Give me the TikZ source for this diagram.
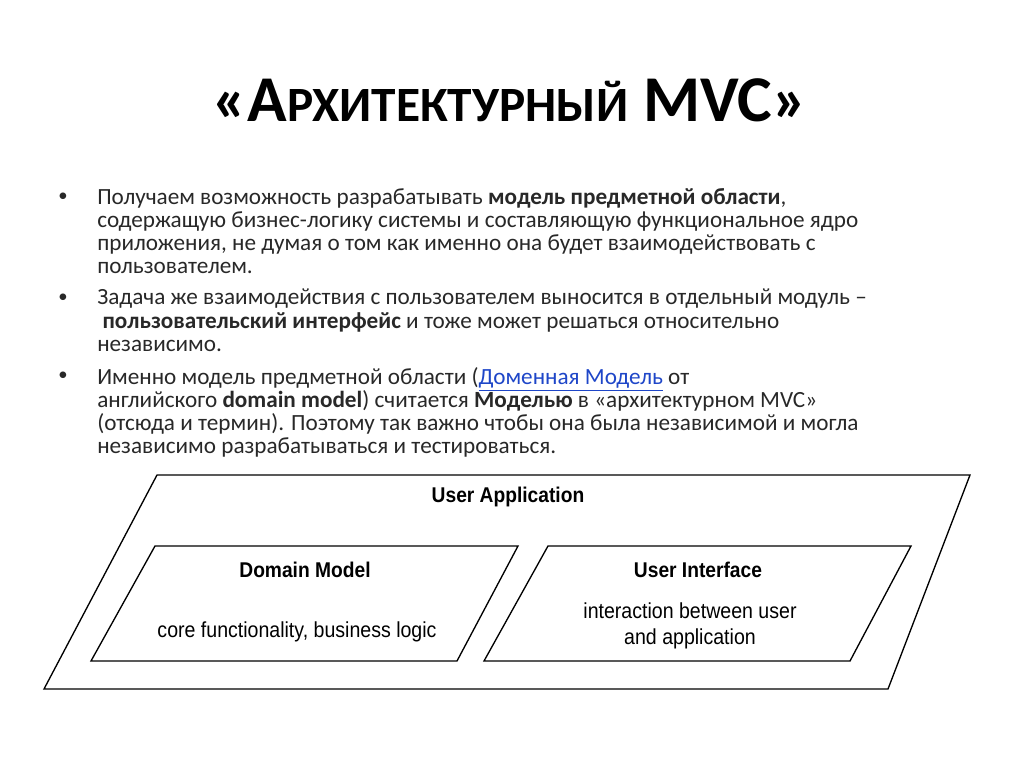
\documentclass[tikz,border=0pt]{standalone}
\usepackage{fontspec}
\setmainfont{Carlito}
\newfontfamily\diag{Liberation Sans}
\definecolor{linkblue}{RGB}{30,70,200}
\definecolor{bodygray}{RGB}{40,40,40}
\begin{document}
\begin{tikzpicture}[x=0.75pt,y=-0.75pt,
  body/.style={anchor=north west,align=left,font=\fontsize{17.4}{17.4}\selectfont,inner sep=0pt,text=bodygray},
  bul/.style={font=\fontsize{14}{16}\selectfont,text=bodygray},
  para/.style={draw,line width=1pt},
  lbl/.style={font=\diag\bfseries\fontsize{16}{18}\selectfont,xscale=0.9},
  txt/.style={font=\diag\fontsize{16.3}{20}\selectfont,xscale=0.9,align=center}]
\useasboundingbox (0,0) rectangle (1024,767);
\node (title) at (510,100) {\fontsize{49}{52}\selectfont\bfseries «А{\fontsize{37}{40}\selectfont РХИТЕКТУРНЫЙ} MVC»};
\node[body] (p1) at (97,188) {Получаем возможность разрабатывать \textbf{модель предметной области},\\содержащую бизнес-логику системы и составляющую функциональное ядро\\приложения, не думая о том как именно она будет взаимодействовать с\\пользователем.};
\node[body] (p2) at (97,289) {Задача же взаимодействия с пользователем выносится в отдельный модуль –\\\ \textbf{пользовательский интерфейс} и тоже может решаться относительно\\независимо.};
\node[body] (p3) at (97,367) {Именно модель предметной области ({\color{linkblue}\smash{\underline{Доменная Модель}}} от\\английского \textbf{domain model}) считается \textbf{Моделью} в «архитектурном MVC»\\(отсюда и термин). Поэтому так важно чтобы она была независимой и могла\\независимо разрабатываться и тестироваться.};
\foreach \p in {p1,p2,p3} \node[bul] at ([xshift=-34*0.75pt,yshift=-9*0.75pt]\p.north west) {•};
\draw[para] (157,475) -- (970,475) -- (888,689) -- (44,689) -- cycle;
\draw[para] (155,546) -- (518,546) -- (457,661) -- (91,661) -- cycle;
\draw[para] (548,546) -- (911,546) -- (850,661) -- (484,661) -- cycle;
\node[lbl] (ua) at (508,497) {User Application};
\node[lbl] (dm) at (305,570) {Domain Model};
\node[txt] (dmt) at (297,632) {core functionality, business logic};
\node[lbl] (ui) at (698,570) {User Interface};
\node[txt] (uit) at (690,626) {interaction between user\\and application};
\end{tikzpicture}
\end{document}
